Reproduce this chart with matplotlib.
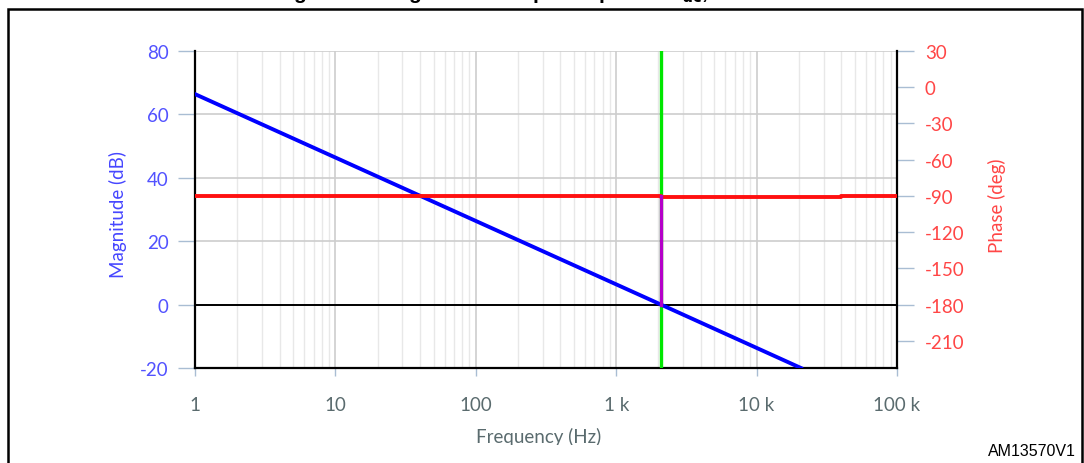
"""Bode plot (magnitude + phase) of the V_ac loop, redrawn from the app note figure."""

import matplotlib
matplotlib.use("Agg")
import matplotlib.pyplot as plt
import matplotlib.patches as mpatches
from matplotlib.ticker import FixedLocator, LogLocator, NullFormatter
from matplotlib.transforms import Bbox

plt.rcParams["axes.unicode_minus"] = False

# --- data ---
mag_freq = [1, 2085, 20700]          # Hz
mag_db = [66.4, 0.0, -20.0]          # dB, -20 dB/dec straight line

phase_freq = [1, 2085, 2085, 40000, 40000, 100000]
phase_deg = [-90.0, -90.0, -90.8, -90.8, -90.0, -90.0]

f_cross = 2085                       # 0 dB crossover
pm_top, pm_bottom = -90.0, -180.0    # phase margin bar (deg)

xticks = [1, 10, 100, 1e3, 1e4, 1e5]
xtick_labels = ["1", "10", "100", "1 k", "10 k", "100 k"]
mag_ticks = [-20, 0, 20, 40, 60, 80]
phase_ticks = [30, 0, -30, -60, -90, -120, -150, -180, -210]

W, H, DPI = 1084, 464, 100
FONT = "Lato"
TICK_C = "#a9bdd3"

fig = plt.figure(figsize=(W / DPI, H / DPI), dpi=DPI)
ax = fig.add_axes([195 / W, 1 - 369 / H, 702 / W, 317 / H])
ax2 = ax.twinx()

# grid
ax.set_xscale("log")
ax.set_xlim(1, 1e5)
ax.set_ylim(-20, 80)
ax.xaxis.set_major_locator(FixedLocator(xticks))
ax.xaxis.set_minor_locator(LogLocator(base=10, subs=range(2, 10), numticks=20))
ax.xaxis.set_minor_formatter(NullFormatter())
ax.set_xticklabels(xtick_labels)
ax.set_yticks(mag_ticks)
ax.grid(which="major", axis="x", color="#cdcdcd", lw=1.2)
ax.grid(which="minor", axis="x", color="#e8e8e8", lw=1.0)
ax.grid(which="major", axis="y", color="#cdcdcd", lw=1.2)
ax.set_axisbelow(True)
ax.axhline(0, color="black", lw=1.4, zorder=2)

# magnitude
ax.axvline(f_cross, color="#00e600", lw=2.4, zorder=3)
ax.plot(mag_freq, mag_db, color="#0000ff", lw=2.8, zorder=5)

# phase on the twin axis (0 dB lines up with -180 deg)
ax2.set_ylim(-232.5, 30)
ax2.set_yticks(phase_ticks)
ax2.plot(phase_freq, phase_deg, color="#ff1010", lw=2.8, zorder=4)
ax2.plot([f_cross, f_cross], [pm_top, pm_bottom], color="#b400c8", lw=2.4, zorder=5)

# spines and ticks
for a in (ax, ax2):
    a.spines["top"].set_visible(False)
ax.spines["right"].set_visible(False)
ax.spines["left"].set_color("black")
ax.spines["left"].set_linewidth(1.6)
ax.spines["bottom"].set_linewidth(1.6)
ax2.spines["left"].set_visible(False)
ax2.spines["bottom"].set_visible(False)
ax2.spines["right"].set_linewidth(1.6)

ax.tick_params(axis="y", which="major", direction="out", length=12, width=1,
               color=TICK_C, pad=7, labelsize=13.5, labelcolor="#5252ff")
ax.tick_params(axis="x", which="major", direction="out", length=6, width=1,
               color=TICK_C, pad=14, labelsize=13.5, labelcolor="#5a6b6e")
ax.tick_params(axis="x", which="minor", length=0)
ax2.tick_params(axis="y", direction="out", length=12, width=1,
                color=TICK_C, pad=8, labelsize=13.5, labelcolor="#ff4646")
for lab in ax.get_xticklabels() + ax.get_yticklabels() + ax2.get_yticklabels():
    lab.set_family(FONT)

# axis labels
fig.text(118 / W, 1 - 215 / H, "Magnitude (dB)", rotation=90, ha="center",
         va="center", color="#4646ff", fontsize=13.5, family=FONT)
fig.text(997 / W, 1 - 206 / H, "Phase (deg)", rotation=90, ha="center",
         va="center", color="#ff4646", fontsize=13.5, family=FONT)
xl = fig.text(539 / W, 1 - 437 / H, "Frequency (Hz)", ha="center", va="center",
              color="#5a6b6e", fontsize=13.5, family=FONT)
xl.set_clip_box(Bbox.from_extents(0, H - 446, W, H))
xl.set_clip_on(True)

# figure frame, caption (cut off by the top edge, as in the source) and id
fig.patches.append(mpatches.Rectangle((8 / W, -0.1), 1074 / W, 1.1 - 10 / H,
                                      transform=fig.transFigure, fill=False,
                                      ec="black", lw=1.8))
fig.text(531 / W, 1 + 1 / H, r"Figure 12. Magnitude and phase plot of V$_{\mathbf{ac}}$, no load",
         ha="center", va="baseline", fontsize=15, fontweight="bold",
         family="Liberation Sans")
fig.text(1076 / W, 1 - 456 / H, "AM13570V1", ha="right", va="baseline",
         fontsize=11.5, family="Liberation Sans")

fig.savefig("out.png", dpi=DPI)
